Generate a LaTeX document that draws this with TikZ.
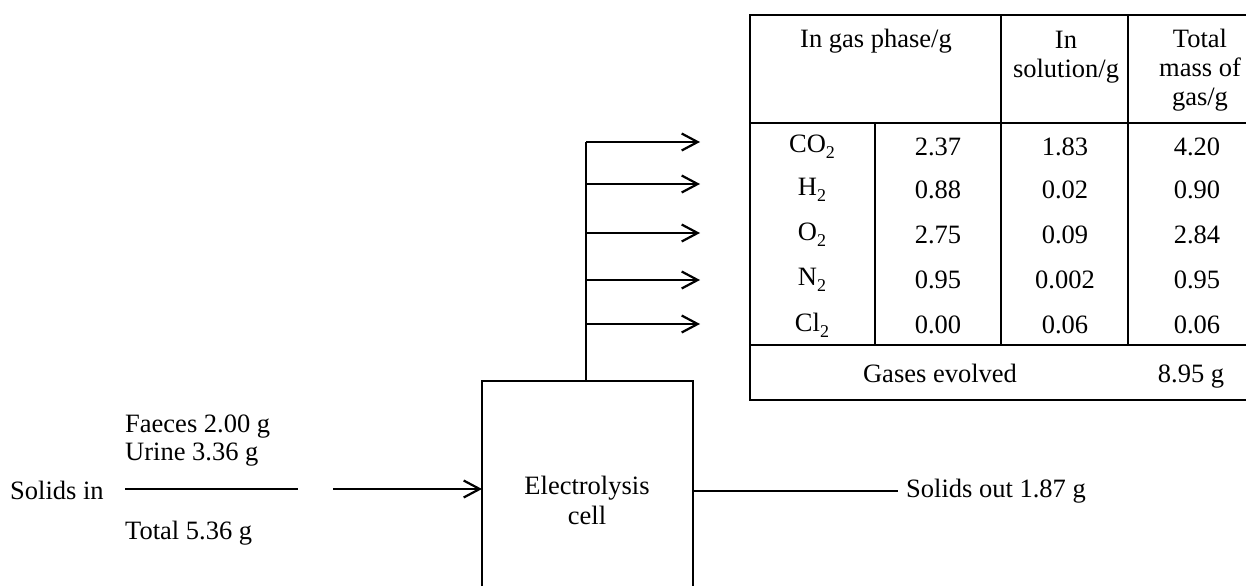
\documentclass[tikz,border=0pt]{standalone}
\usepackage{fontspec}
\setmainfont{Liberation Serif}
\usetikzlibrary{arrows.meta}
\newcommand{\subtwo}{\raisebox{-0.5ex}{\fontsize{18}{18}\selectfont 2}}
\begin{document}
\begin{tikzpicture}[x=1pt,y=-1pt,
  lbl/.style={inner sep=0pt,font=\fontsize{26.5}{29}\selectfont},
  ln/.style={line width=1.4pt},
  arr/.style={line width=1.6pt,-{Straight Barb[length=16pt,width=17pt,line width=2.2pt]}}]
\useasboundingbox (0,0) rectangle (1246,586);
% table
\draw[ln] (1246,15) -- (750,15) -- (750,400) -- (1246,400);
\draw[ln] (750,123) -- (1246,123);
\draw[ln] (750,345) -- (1246,345);
\draw[ln] (875,123) -- (875,345);
\draw[ln] (1001,15) -- (1001,345);
\draw[ln] (1128,15) -- (1128,345);
\node[lbl] (hgas) at (876,41) {In gas phase/g};
\node[lbl,align=center] (hsol) at (1066,57) {In\\solution/g};
\node[lbl,align=center] (htot) at (1200,70) {Total\\mass of\\gas/g};
\foreach \n/\g/\a/\b/\c/\y in {co/CO/2.37/1.83/4.20/147, h/H/0.88/0.02/0.90/190, o/O/2.75/0.09/2.84/235, n/N/0.95/0.002/0.95/280, cl/Cl/0.00/0.06/0.06/325}{
  \node[lbl] (g\n) at (812,\y) {\g\subtwo};
  \node[lbl] (a\n) at (938,\y) {\a};
  \node[lbl] (b\n) at (1065,\y) {\b};
  \node[lbl] (c\n) at (1197,\y) {\c};
}
\node[lbl,anchor=base] (gev) at (940,382) {Gases evolved};
\node[lbl,anchor=base] (gtot) at (1191,382) {8.95 g};
% cell
\draw[ln] (482,586) |- (693,381) -- (693,586);
\node[lbl,align=center,font=\fontsize{26.5}{30}\selectfont] (cell) at (587,500) {Electrolysis\\cell};
\coordinate (cellT) at (586,381);
\coordinate (cellL) at (482,489);
\coordinate (cellR) at (693,491);
% gas arrows
\coordinate (v1) at (586,142);
\foreach \y/\i in {142/1,184/2,233/3,280/4,324/5}{
  \coordinate (s\i) at (586,\y);
  \coordinate (t\i) at (700,\y);
  \draw[arr] (s\i) -- (t\i);
}
\draw[ln] (cellT) -- (v1);
% solids in
\node[lbl,anchor=west] (sin) at (10,490) {Solids in};
\node[lbl,anchor=west] (fae) at (125,427) {Faeces 2.00 g};
\node[lbl,anchor=west] (uri) at (125,455) {Urine 3.36 g};
\node[lbl,anchor=west] (tot) at (125,533) {Total 5.36 g};
\coordinate (b1) at (125,489);
\coordinate (b2) at (298,489);
\draw[ln] (b1) -- (b2);
\coordinate (ain) at (333,489);
\draw[arr] (ain) -- (cellL);
% solids out
\node[lbl,anchor=west] (sout) at (906,491) {Solids out 1.87 g};
\draw[ln,shorten >=8pt] (cellR) -- (sout.west);
\end{tikzpicture}
\end{document}
